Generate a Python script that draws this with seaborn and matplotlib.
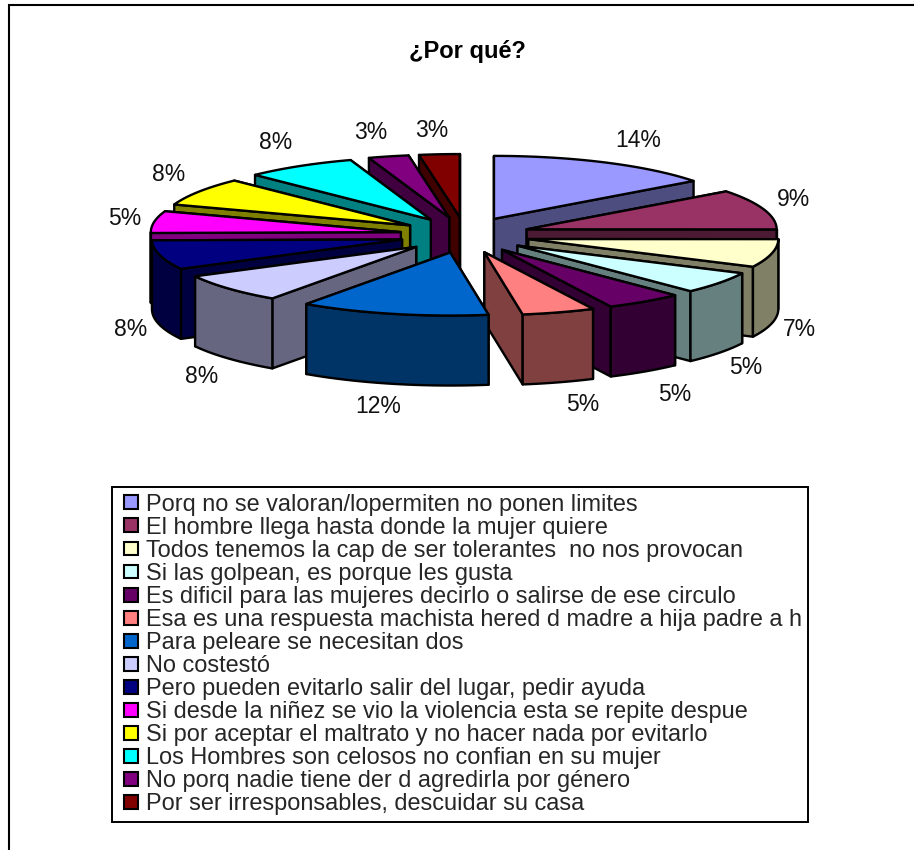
import numpy as np
import matplotlib
matplotlib.use("Agg")
import matplotlib.pyplot as plt
from matplotlib.legend_handler import HandlerPatch
from matplotlib.patches import Patch, Polygon, Rectangle
import seaborn as sns

categories = [
    "Porq no se valoran/lopermiten no ponen limites",
    "El hombre llega hasta donde la mujer quiere",
    "Todos tenemos la cap de ser tolerantes  no nos provocan",
    "Si las golpean, es porque les gusta",
    "Es dificil para las mujeres decirlo o salirse de ese circulo",
    "Esa es una respuesta machista hered d madre a hija padre a h",
    "Para peleare se necesitan dos",
    "No costestó",
    "Pero pueden evitarlo salir del lugar, pedir ayuda",
    "Si desde la niñez se vio la violencia esta se repite despue",
    "Si por aceptar el maltrato y no hacer nada por evitarlo",
    "Los Hombres son celosos no confian en su mujer",
    "No porq nadie tiene der d agredirla por género",
    "Por ser irresponsables, descuidar su casa",
]
# share of the pie as drawn
shares = [14.7, 10.3, 7.2, 5.6, 5.0, 4.7, 12.2, 7.5, 7.5, 5.6, 7.2, 7.2, 2.6, 2.6]
# printed labels
pct_labels = ["14%", "9%", "7%", "5%", "5%", "5%", "12%", "8%", "8%", "5%", "8%", "8%", "3%", "3%"]
colors = ["#9999FF", "#993366", "#FFFFCC", "#CCFFFF", "#660066", "#FF8080", "#0066CC",
          "#CCCCFF", "#000080", "#FF00FF", "#FFFF00", "#00FFFF", "#800080", "#800000"]

# label offset from the centre, as multiples of the pie radii
label_x = [0.692, 1.312, 1.336, 1.124, 0.84, 0.472, -0.348, -1.052, -1.336, -1.36, -1.184, -0.756, -0.376, -0.132]
label_y = [-1.52, -0.58, 1.52, 2.13, 2.58, 2.74, 2.77, 2.29, 1.53, -0.27, -0.98, -1.5, -1.66, -1.69]

CX, CY = 465, 235
RX, RY = 250, 63
EXPLODE_X, EXPLODE_Y = 65, 18
DEPTH = 70
LW = 1.7


class SquareHandler(HandlerPatch):
    # small square at the right end of the handle box
    def create_artists(self, legend, orig_handle, xdescent, ydescent, width, height, fontsize, trans):
        s = 10
        p = Rectangle((width - s - xdescent, (height - s) / 2 - ydescent), s, s)
        self.update_prop(p, orig_handle, legend)
        p.set_transform(trans)
        return [p]


def rim(apex, t):
    return np.column_stack([apex[0] + RX * np.sin(t), apex[1] - RY * np.cos(t)])


def draw_slice(ax, start, end, color):
    mid = (start + end) / 2
    apex = np.array([CX + EXPLODE_X * np.sin(mid), CY - EXPLODE_Y * np.cos(mid)])
    dark = tuple(np.array(color) * 0.5)
    down = np.array([0, DEPTH])

    # radial walls, back one first
    walls = [rim(apex, np.array([a]))[0] for a in (start, end)]
    walls.sort(key=lambda p: p[1])
    for p in walls:
        ax.add_patch(Polygon([apex, p, p + down, apex + down], fc=dark, ec="black", lw=LW, joinstyle="round"))

    # outer wall, only the part that faces the viewer
    lo, hi = max(start, np.pi / 2), min(end, 3 * np.pi / 2)
    if hi > lo:
        arc = rim(apex, np.linspace(lo, hi, 40))
        ax.add_patch(Polygon(np.vstack([arc, arc[::-1] + down]), fc=dark, ec="black", lw=LW, joinstyle="round"))

    top = rim(apex, np.linspace(start, end, 40))
    ax.add_patch(Polygon(np.vstack([apex, top]), fc=color, ec="black", lw=LW, joinstyle="round"))


def plot():
    sns.set_theme(style="white")
    plt.rcParams["font.family"] = ["Liberation Sans", "DejaVu Sans"]
    palette = sns.color_palette(colors)

    fig = plt.figure(figsize=(9.14, 8.5), dpi=100)
    ax = fig.add_axes([0, 0, 1, 1])
    ax.set_xlim(0, 914)
    ax.set_ylim(850, 0)
    ax.axis("off")

    # chart frame, runs off the right and bottom of the picture
    ax.add_patch(Rectangle((9, 5), 1000, 1000, fc="white", ec="black", lw=1.5))
    ax.text(467, 51, "¿Por qué?", ha="center", va="center", fontsize=17, fontweight="bold", color="black")

    edges = np.cumsum([0] + shares) / sum(shares) * 2 * np.pi
    mids = (edges[:-1] + edges[1:]) / 2
    # back to front
    for i in np.argsort(-np.cos(mids)):
        draw_slice(ax, edges[i], edges[i + 1], palette[i])

    for lab, lx, ly in zip(pct_labels, label_x, label_y):
        ax.text(CX + lx * RX, CY + ly * 62, lab, ha="center", va="center", fontsize=16.5, color="#111111")

    handles = [Patch(fc=c, ec="black", lw=1.5) for c in palette]
    leg = ax.legend(handles, categories, loc="upper left", bbox_to_anchor=(112 / 914, 1 - 487 / 850),
                    bbox_transform=fig.transFigure, fontsize=16.95, frameon=True, fancybox=False, framealpha=1,
                    edgecolor="black", borderaxespad=0, borderpad=0.28, labelspacing=0.045,
                    handlelength=0.81, handleheight=0.7, handletextpad=0.34,
                    handler_map={Patch: SquareHandler()})
    leg.get_frame().set_linewidth(1.4)

    fig.savefig("out.png", dpi=100, facecolor="white")


if __name__ == "__main__":
    plot()
